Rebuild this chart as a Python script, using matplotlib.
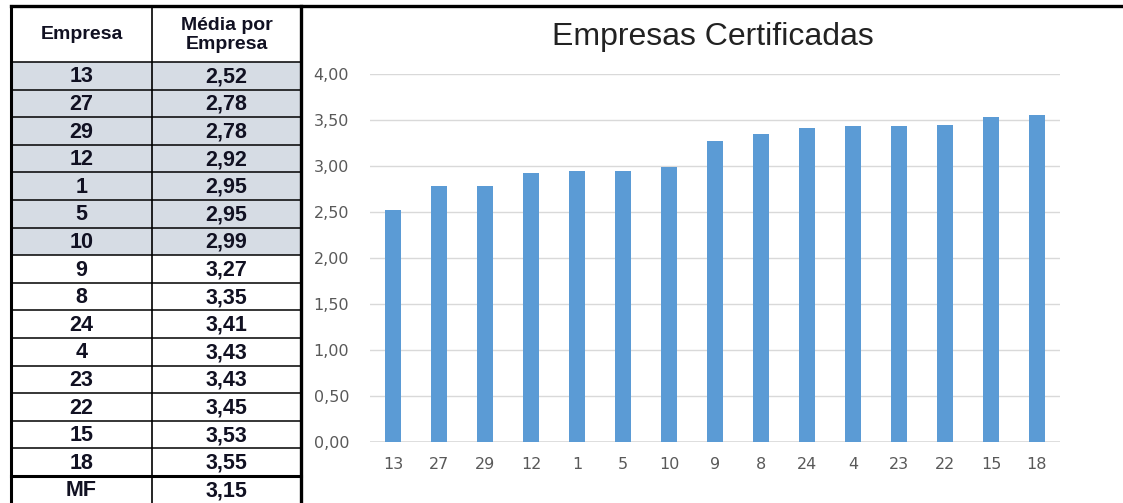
#!/usr/bin/env python3

import matplotlib
matplotlib.use('Agg')
import matplotlib.pyplot as plt
from matplotlib.patches import Rectangle


empresas = ['13', '27', '29', '12', '1', '5', '10', '9', '8', '24', '4', '23', '22', '15', '18']
medias = [2.52, 2.78, 2.78, 2.92, 2.95, 2.95, 2.99, 3.27, 3.35, 3.41, 3.43, 3.43, 3.45, 3.53, 3.55]
n_shaded = 7
mf_label = 'MF'
mf_value = 3.15

yticks = [0, 0.5, 1.0, 1.5, 2.0, 2.5, 3.0, 3.5, 4.0]


def br(v):
    return f'{v:.2f}'.replace('.', ',')


W, H = 1123, 503
fig = plt.figure(figsize=(W / 100, H / 100), dpi=100)

# table + frame, drawn in pixel coords
tab = fig.add_axes([0, 0, 1, 1])
tab.set_xlim(0, W)
tab.set_ylim(H, 0)
tab.axis('off')

x0, x1, x2 = 11, 152, 301
top, head_bot = 6, 62
rh = 27.6

tab.text((x0 + x1) / 2, (top + head_bot) / 2, 'Empresa', ha='center', va='center',
         fontsize=14, fontweight='bold', family='Liberation Sans', color='#111122')
tab.text((x1 + x2) / 2, (top + head_bot) / 2 + 1, 'Média por\nEmpresa', ha='center', va='center',
         fontsize=14, fontweight='bold', family='Liberation Sans', color='#111122',
         linespacing=1.2)

rows = list(zip(empresas, medias)) + [(mf_label, mf_value)]
for i, (e, m) in enumerate(rows):
    y = head_bot + i * rh
    if i < n_shaded:
        tab.add_patch(Rectangle((x0, y), x2 - x0, rh, facecolor='#D6DCE4', edgecolor='none'))
    tab.text((x0 + x1) / 2, y + rh / 2 + 1, e, ha='center', va='center',
             fontsize=15.5, fontweight='bold', family='Liberation Sans', color='#111122')
    tab.text((x1 + x2) / 2, y + rh / 2 + 1, br(m), ha='center', va='center',
             fontsize=15.5, fontweight='bold', family='Liberation Sans', color='#111122')
    lw = 2.2 if i == len(rows) - 1 else 1.1
    tab.plot([x0, x2], [y, y], color='black', lw=lw)

tab.plot([x0, x0], [top, H], color='black', lw=2.2)
tab.plot([x1, x1], [top, H], color='black', lw=1.2)
tab.plot([x2, x2], [top, H], color='black', lw=2.4)
tab.plot([x0, W], [top, top], color='black', lw=2.4)

# chart
ax = fig.add_axes([370 / W, 61 / H, 690 / W, 368 / H])
x = range(len(empresas))
ax.bar(x, medias, width=0.33, color='#5B9BD5', zorder=3)
ax.set_xlim(-0.5, len(empresas) - 0.5)
ax.set_ylim(0, 4)
ax.set_yticks(yticks)
ax.set_yticklabels([br(v) for v in yticks])
ax.set_xticks(list(x))
ax.set_xticklabels(empresas)
for s in ax.spines.values():
    s.set_visible(False)
ax.grid(True, axis='y', color='#D9D9D9', lw=1, zorder=0)
ax.tick_params(length=0, labelsize=11.5, colors='#595959', pad=11,
               labelfontfamily='DejaVu Sans')
ax.tick_params(axis='y', pad=15)
ax.axhline(0, color='#D9D9D9', lw=1.2, zorder=2)

fig.text(713 / W, 1 - 37 / H, 'Empresas Certificadas', ha='center', va='center',
         fontsize=23, family='Liberation Sans', color='#222222')

fig.savefig('out.png', dpi=100)
